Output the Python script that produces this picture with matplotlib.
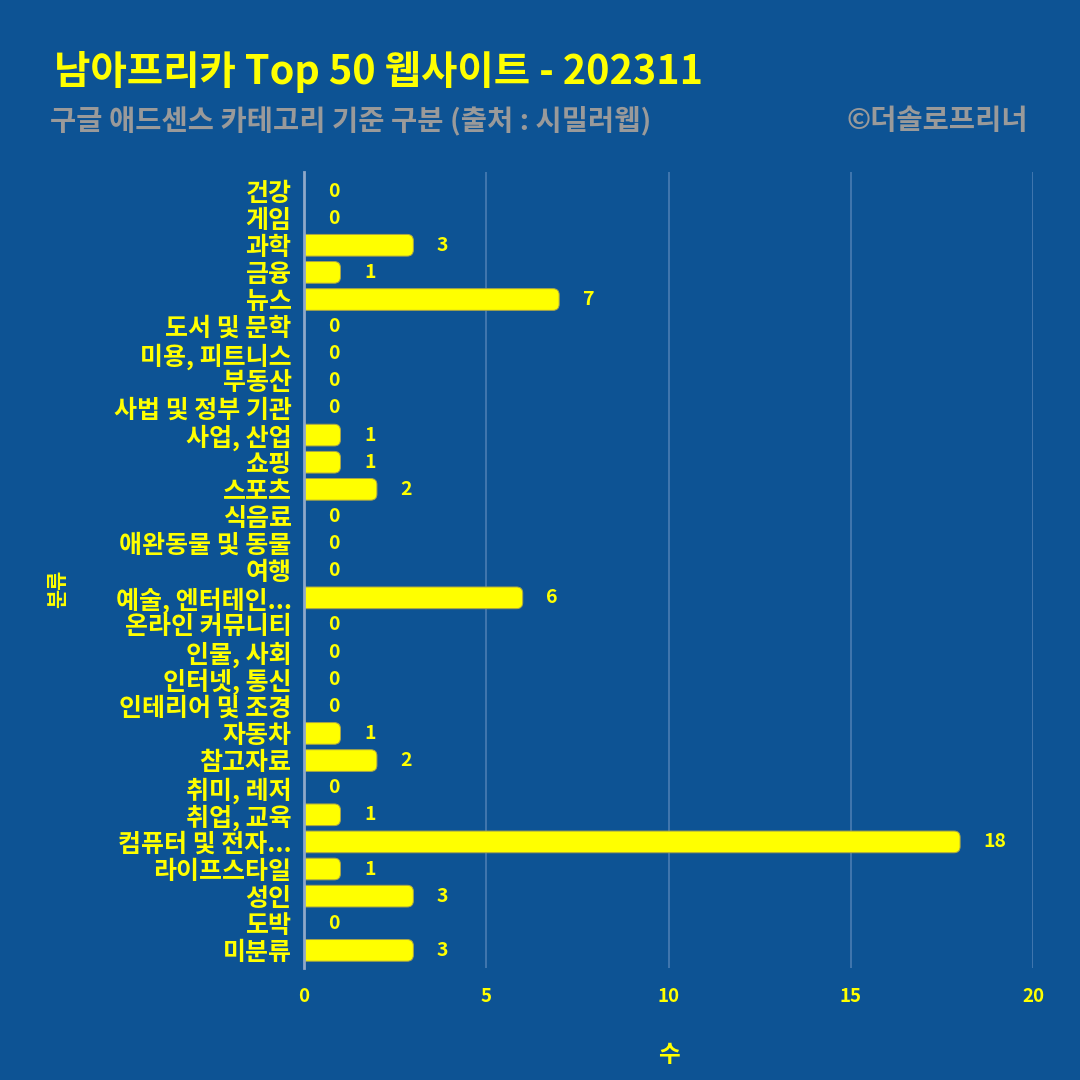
import numpy as np
import matplotlib.pyplot as plt
from matplotlib.patches import FancyBboxPatch
from matplotlib.transforms import offset_copy

plt.rcParams['font.family'] = ['Noto Sans CJK KR', 'DejaVu Sans']

# data
categories = ['건강', '게임', '과학', '금융', '뉴스', '도서 및 문학', '미용, 피트니스',
              '부동산', '사법 및 정부 기관', '사업, 산업', '쇼핑', '스포츠', '식음료',
              '애완동물 및 동물', '여행', '예술, 엔터테인...', '온라인 커뮤니티',
              '인물, 사회', '인터넷, 통신', '인테리어 및 조경', '자동차', '참고자료',
              '취미, 레저', '취업, 교육', '컴퓨터 및 전자...', '라이프스타일', '성인',
              '도박', '미분류']
counts = [0, 0, 3, 1, 7, 0, 0, 0, 0, 1, 1, 2, 0, 0, 0, 6, 0, 0, 0, 0, 1, 2, 0, 1, 18,
          1, 3, 0, 3]
xticks = [0, 5, 10, 15, 20]

bg = '#0d5394'
yel = '#ffff00'

fig = plt.figure(figsize=(10.8, 10.8), dpi=100, facecolor=bg)
ax = fig.add_axes([0.2815, 0.1037, 0.675, 0.737], facecolor=bg)

y = np.arange(len(categories))
h = 0.8
px_x = 0.675 * 1080 / 20.0
px_y = 0.737 * 1080 / 29.35
# rounded bars; left end starts past the axis so clipping keeps it square
for yi, v in zip(y, counts):
    if v <= 0:
        continue
    p = FancyBboxPatch((-0.4, yi - h / 2), v + 0.4, h,
                       boxstyle='round,pad=0,rounding_size=0.17',
                       mutation_aspect=px_x / px_y,
                       facecolor=yel, edgecolor='#a8a448', linewidth=0.7, zorder=3)
    ax.add_patch(p)

lab_tr = offset_copy(ax.transData, fig=fig, x=17, y=0, units='points')
for yi, v in zip(y, counts):
    ax.text(v, yi, str(v), color=yel, fontsize=14, fontweight='bold',
            ha='left', va='center', zorder=4, transform=lab_tr)

ax.set_xlim(0, 20)
ax.set_ylim(28.65, -0.7)
ax.set_xticks(xticks)
ax.set_yticks(y)
ax.set_yticklabels(categories)
ax.tick_params(axis='y', length=0, pad=9, labelcolor=yel, labelsize=18)
ax.tick_params(axis='x', length=0, pad=14, labelcolor=yel, labelsize=13.5)
for lab in ax.get_yticklabels() + ax.get_xticklabels():
    lab.set_fontweight('bold')
ax.grid(axis='x', color='#4a7db3', linewidth=1.2, zorder=0)
for s in ['top', 'right', 'bottom']:
    ax.spines[s].set_visible(False)
ax.spines['left'].set_color('#8fa8c8')
ax.spines['left'].set_linewidth(2)
ax.spines['left'].set_zorder(5)

ax.set_xlabel('수', color=yel, fontsize=17, fontweight='bold', labelpad=26)
fig.text(0.053, 0.455, '분류', color=yel, fontsize=15, fontweight='bold',
         rotation=90, ha='center', va='center')

fig.text(0.050, 0.933, '남아프리카 Top 50 웹사이트 - 202311', color=yel, fontsize=28.5,
         fontweight='heavy', ha='left', va='center')
fig.text(0.046, 0.888, '구글 애드센스 카테고리 기준 구분 (출처 : 시밀러웹)', color='#9a9a9a',
         fontsize=20.5, fontweight='bold', ha='left', va='center')
fig.text(0.952, 0.888, '©더솔로프리너', color='#9a9a9a', fontsize=20.5, fontweight='bold',
         ha='right', va='center')

fig.savefig('out.png', facecolor=bg)
